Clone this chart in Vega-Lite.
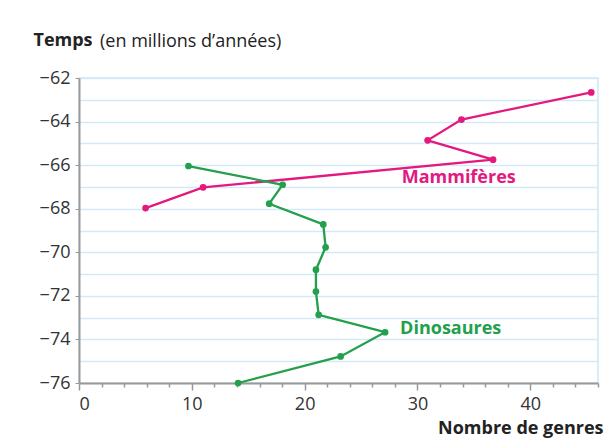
{
  "$schema": "https://vega.github.io/schema/vega-lite/v6.json",
  "width": 519,
  "height": 305,
  "autosize": {"type": "none"},
  "padding": {"left": 79, "top": 78, "right": 18, "bottom": 57},
  "background": "white",
  "config": {
    "font": "Open Sans",
    "view": {"stroke": "#cfe6f5", "strokeWidth": 1.5}
  },
  "title": {
    "text": "(en millions d’années)",
    "anchor": "start",
    "frame": "group",
    "orient": "top",
    "fontSize": 18,
    "fontWeight": "normal",
    "color": "#222222",
    "dx": 21,
    "dy": 46,
    "offset": 12,
    "baseline": "alphabetic"
  },
  "datasets": {
    "series": [
      {"groupe": "Mammifères", "temps": -62.66, "genres": 45.4},
      {"groupe": "Mammifères", "temps": -63.91, "genres": 33.9},
      {"groupe": "Mammifères", "temps": -64.86, "genres": 30.9},
      {"groupe": "Mammifères", "temps": -65.75, "genres": 36.7},
      {"groupe": "Mammifères", "temps": -67.02, "genres": 11.0},
      {"groupe": "Mammifères", "temps": -67.97, "genres": 5.9},
      {"groupe": "Dinosaures", "temps": -66.04, "genres": 9.7},
      {"groupe": "Dinosaures", "temps": -66.9, "genres": 18.05},
      {"groupe": "Dinosaures", "temps": -67.77, "genres": 16.86},
      {"groupe": "Dinosaures", "temps": -68.72, "genres": 21.65},
      {"groupe": "Dinosaures", "temps": -69.77, "genres": 21.86},
      {"groupe": "Dinosaures", "temps": -70.8, "genres": 21.0},
      {"groupe": "Dinosaures", "temps": -71.8, "genres": 21.0},
      {"groupe": "Dinosaures", "temps": -72.87, "genres": 21.24},
      {"groupe": "Dinosaures", "temps": -73.67, "genres": 27.13},
      {"groupe": "Dinosaures", "temps": -74.78, "genres": 23.19},
      {"groupe": "Dinosaures", "temps": -76.0, "genres": 14.1}
    ],
    "labels": [
      {"groupe": "Mammifères", "temps": -66.61, "genres": 28.6},
      {"groupe": "Dinosaures", "temps": -73.52, "genres": 28.46}
    ]
  },
  "encoding": {
    "x": {
      "field": "genres",
      "type": "quantitative",
      "scale": {"domain": [0, 46], "nice": false, "zero": false},
      "axis": {
        "title": "Nombre de genres",
        "titleFontSize": 18,
        "titleFontWeight": "bold",
        "titleColor": "#222222",
        "titleAlign": "right",
        "titleAnchor": null,
        "titleX": 524,
        "titleY": 50,
        "titleBaseline": "alphabetic",
        "values": [0,2,4,6,8,10,12,14,16,18,20,22,24,26,28,30,32,34,36,38,40,42,44,46],
        "labelExpr": "datum.value % 10 == 0 ? datum.label : ''",
        "labelFontSize": 18,
        "labelColor": "#333333",
        "labelPadding": 5,
        "tickColor": "#999999",
        "tickSize": {"condition": {"test": "datum.value % 10 == 0", "value": 7}, "value": 4},
        "tickWidth": 1.5,
        "domainColor": "#999999",
        "domainWidth": 2,
        "grid": false
      }
    },
    "y": {
      "field": "temps",
      "type": "quantitative",
      "scale": {"domain": [-76, -62], "nice": false, "zero": false},
      "axis": {
        "title": "Temps",
        "titleFontSize": 18,
        "titleFontWeight": "bold",
        "titleColor": "#222222",
        "titleAngle": 0,
        "titleAlign": "left",
        "titleAnchor": null,
        "titleX": -46,
        "titleY": -33,
        "titleBaseline": "alphabetic",
        "values": [-76,-75,-74,-73,-72,-71,-70,-69,-68,-67,-66,-65,-64,-63,-62],
        "labelExpr": "datum.value % 2 == 0 ? datum.label : ''",
        "labelFontSize": 18,
        "labelColor": "#333333",
        "labelPadding": 5,
        "tickColor": "#999999",
        "tickSize": 4,
        "tickOpacity": {"condition": {"test": "datum.value % 2 == 0", "value": 1}, "value": 0},
        "domainColor": "#999999",
        "domainWidth": 2,
        "grid": true,
        "gridColor": "#d3e9f7",
        "gridWidth": 1.5
      }
    },
    "color": {
      "field": "groupe",
      "type": "nominal",
      "scale": {"domain": ["Mammifères", "Dinosaures"], "range": ["#e4197f", "#22a04b"]},
      "legend": null
    }
  },
  "layer": [
    {
      "data": {"name": "series"},
      "mark": {"type": "line", "strokeWidth": 2.3},
      "encoding": {"order": {"field": "temps", "type": "quantitative"}}
    },
    {
      "data": {"name": "series"},
      "mark": {"type": "point", "filled": true, "opacity": 1, "size": 45}
    },
    {
      "data": {"name": "labels"},
      "mark": {"type": "text", "align": "left", "baseline": "middle", "fontSize": 18, "fontWeight": "bold"},
      "encoding": {"text": {"field": "groupe"}}
    }
  ]
}
